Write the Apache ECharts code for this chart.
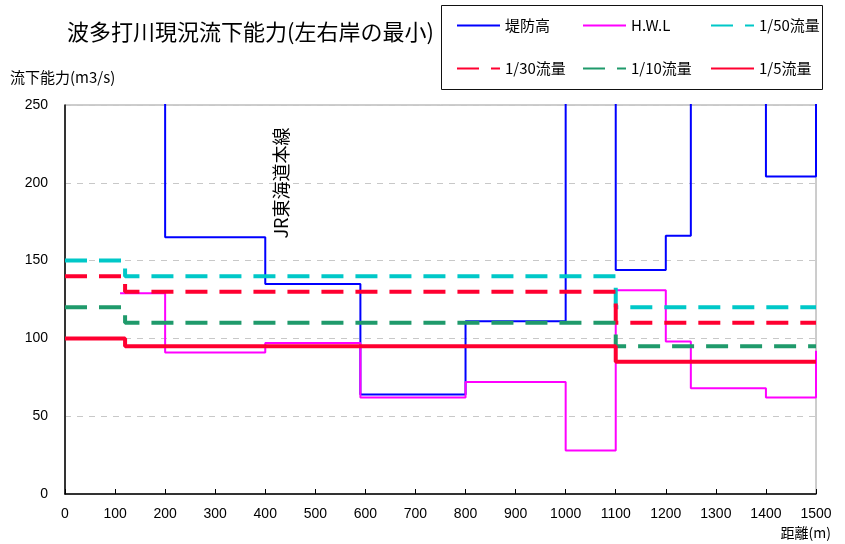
<!DOCTYPE html>
<html>
<head>
<meta charset="utf-8">
<script src="https://cdn.jsdelivr.net/npm/echarts@6/dist/echarts.min.js"></script>
<style>
  html, body { margin: 0; padding: 0; background: #fff; }
  #chart { width: 845px; height: 544px; }
</style>
</head>
<body>
<div id="chart"></div>
<script>
// Distance breakpoints (m) and discharge capacities (m3/s); each value holds until the next breakpoint.
const levee_x   = [0, 200, 400, 590, 800, 1000, 1100, 1200, 1250, 1400, 1500];
const levee_y   = [300, 165, 135, 64, 111, 300, 144, 166, 300, 204, 300];
const hwl_x     = [110, 200, 400, 590, 800, 1000, 1100, 1200, 1250, 1400, 1500];
const hwl_y     = [129, 91, 97, 62, 72, 28, 131, 98, 68, 62, 92];
const flow_x    = [0, 120, 1100, 1500];
const q50_y     = [150, 140, 120, 120];
const q30_y     = [140, 130, 110, 110];
const q10_y     = [120, 110, 95, 95];
const q5_y      = [100, 95, 85, 85];

const seriesNames = ['堤防高', 'H.W.L', '1/50流量', '1/30流量', '1/10流量', '1/5流量'];
const xTicks = { min: 0, max: 1500, step: 100 };
const yTicks = { min: 0, max: 250, step: 50 };

const pairs = (xs, ys) => xs.map((x, i) => [x, ys[i]]);

const CJK = '"Noto Sans CJK JP", "Liberation Sans", sans-serif';
const NARROW = '"Liberation Sans Narrow", "Liberation Sans", sans-serif';

function stepSeries(name, data, color, width, dashed, z) {
  return {
    name: name,
    type: 'line',
    step: 'end',
    data: data,
    showSymbol: false,
    symbol: 'none',
    clip: true,
    z: z,
    lineStyle: {
      color: color,
      width: width,
      type: dashed ? [22, 12] : 'solid',
      cap: 'butt'
    },
    itemStyle: { color: color },
    emphasis: { disabled: true }
  };
}

const chart = echarts.init(document.getElementById('chart'), null, { renderer: 'canvas' });

// Legend entries laid out as two rows of three fixed columns
const legendCols = [451, 577, 705];
const legendRows = [13, 56];
const legends = seriesNames.map((n, i) => ({
  data: [n],
  left: legendCols[i % 3],
  top: legendRows[Math.floor(i / 3)],
  itemWidth: 43,
  itemHeight: 14,
  itemGap: 0,
  itemStyle: { opacity: 0 },
  textStyle: { fontSize: 15, color: '#000', fontFamily: CJK, padding: [0, 0, 0, 0] },
  selectedMode: false
}));

chart.setOption({
  animation: false,
  backgroundColor: '#fff',
  grid: {
    left: 65, right: 29, top: 105, bottom: 50,
    show: true, borderColor: '#9a9a9a', borderWidth: 1
  },
  legend: legends,
  graphic: [
    {
      type: 'text', left: 67, top: 21, z: 10,
      style: { text: '波多打川現況流下能力(左右岸の最小)', font: '22px ' + CJK, fill: '#000' }
    },
    {
      type: 'text', left: 10, top: 70, z: 10,
      style: { text: '流下能力(m3/s)', font: '15px ' + CJK, fill: '#000' }
    },
    {
      type: 'text', right: 14, top: 526, z: 10,
      style: { text: '距離(m)', font: '14px ' + CJK, fill: '#000' }
    },
    {
      type: 'rect', z: 0,
      shape: { x: 441.5, y: 5.5, width: 381, height: 84 },
      style: { fill: '#fff', stroke: '#111', lineWidth: 1 }
    },
    {
      type: 'text', z: 10,
      x: 281, y: 183, rotation: Math.PI / 2,
      style: {
        text: 'JR東海道本線', font: '18px ' + CJK, fill: '#000',
        align: 'center', verticalAlign: 'middle'
      }
    }
  ],
  xAxis: {
    type: 'value',
    min: xTicks.min, max: xTicks.max, interval: xTicks.step,
    axisLine: { show: true, lineStyle: { color: '#000', width: 1.5 } },
    axisTick: { show: true, inside: true, length: 5, lineStyle: { color: '#000' } },
    axisLabel: {
      color: '#000', fontSize: 14, fontFamily: NARROW, margin: 13,
      formatter: v => String(v)
    },
    splitLine: { show: false }
  },
  yAxis: {
    type: 'value',
    min: yTicks.min, max: yTicks.max, interval: yTicks.step,
    axisLine: { show: true, lineStyle: { color: '#000', width: 1.5 } },
    axisTick: { show: false },
    axisLabel: {
      color: '#000', fontSize: 14, fontFamily: '"Liberation Sans", sans-serif', margin: 17,
      formatter: v => String(v)
    },
    splitLine: { show: true, lineStyle: { color: '#c8c8c8', type: [6, 6], width: 1 } }
  },
  series: [
    stepSeries(seriesNames[0], pairs(levee_x, levee_y), '#0000ff', 2, false, 2),
    stepSeries(seriesNames[1], pairs(hwl_x, hwl_y), '#ff00ff', 2, false, 3),
    stepSeries(seriesNames[2], pairs(flow_x, q50_y), '#00c8c8', 4, true, 4),
    stepSeries(seriesNames[3], pairs(flow_x, q30_y), '#ff0030', 4, true, 5),
    stepSeries(seriesNames[4], pairs(flow_x, q10_y), '#1f9a6b', 4, true, 6),
    stepSeries(seriesNames[5], pairs(flow_x, q5_y), '#ff0030', 4, false, 7)
  ]
});
</script>
</body>
</html>
